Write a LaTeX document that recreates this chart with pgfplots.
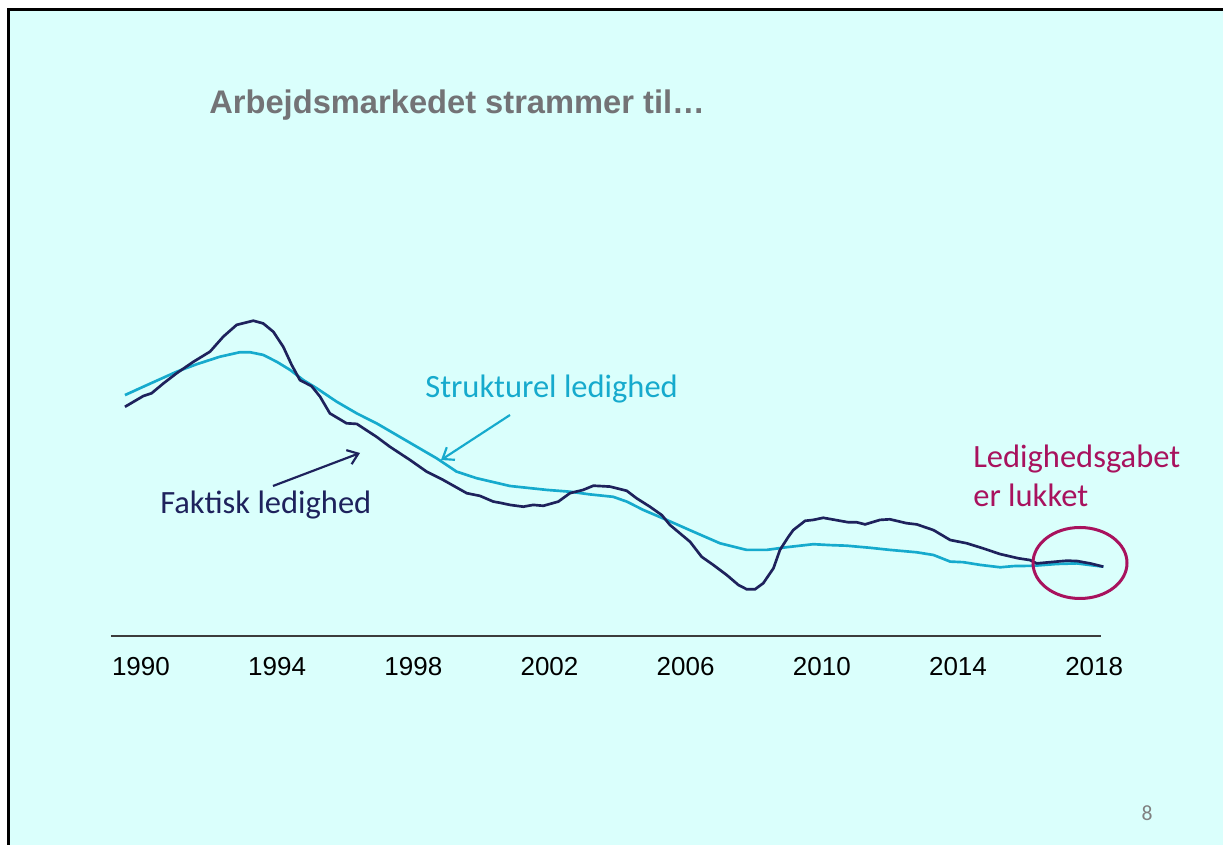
\documentclass[border=0pt]{standalone}
\usepackage{fontspec}
\setmainfont{Carlito}
\newfontfamily\arial{Liberation Sans}
\usepackage{pgfplots}
\pgfplotsset{compat=1.18}
\usetikzlibrary{arrows.meta}

\definecolor{slidebg}{RGB}{218,255,252}
\definecolor{faktisk}{RGB}{30,34,92}
\definecolor{struktur}{RGB}{22,170,205}
\definecolor{gabet}{RGB}{168,18,94}
\definecolor{titlegray}{RGB}{115,115,118}
\definecolor{axisgray}{RGB}{60,60,60}

% Faktisk ledighed (pct.)
\pgfplotstableread{
year  val
1989.53 7.64
1990.07 8.00
1990.31 8.09
1990.66 8.42
1991.05 8.76
1991.54 9.14
1992.03 9.48
1992.42 9.98
1992.81 10.37
1993.30 10.51
1993.59 10.42
1993.89 10.14
1994.18 9.64
1994.43 9.03
1994.67 8.53
1995.01 8.33
1995.26 7.98
1995.55 7.42
1996.04 7.09
1996.34 7.07
1996.92 6.64
1997.31 6.31
1997.90 5.87
1998.39 5.48
1998.88 5.20
1999.57 4.76
1999.96 4.67
2000.35 4.48
2000.55 4.44
2000.84 4.37
2001.23 4.31
2001.52 4.37
2001.82 4.34
2002.26 4.48
2002.60 4.76
2002.99 4.87
2003.29 5.01
2003.78 4.98
2004.27 4.84
2004.56 4.59
2004.95 4.31
2005.30 4.03
2005.54 3.70
2006.13 3.14
2006.47 2.64
2006.81 2.37
2007.21 2.03
2007.55 1.70
2007.79 1.56
2008.04 1.56
2008.28 1.76
2008.58 2.26
2008.77 2.87
2009.02 3.31
2009.16 3.53
2009.51 3.84
2009.75 3.87
2010.04 3.94
2010.24 3.90
2010.78 3.79
2011.03 3.79
2011.27 3.72
2011.71 3.87
2012.00 3.89
2012.49 3.76
2012.79 3.72
2013.28 3.53
2013.77 3.20
2014.26 3.09
2014.74 2.92
2015.24 2.73
2015.77 2.59
2016.12 2.53
2016.31 2.42
2016.70 2.46
2017.19 2.51
2017.49 2.50
2017.88 2.42
2018.27 2.31
}\faktiskdata

% Strukturel ledighed (pct.)
\pgfplotstableread{
year  val
1989.53 8.03
1990.07 8.31
1990.56 8.56
1991.05 8.81
1991.64 9.06
1992.32 9.31
1992.91 9.46
1993.20 9.46
1993.59 9.37
1993.99 9.14
1994.38 8.87
1994.77 8.53
1995.16 8.26
1995.75 7.81
1996.34 7.42
1996.92 7.09
1997.51 6.70
1998.10 6.31
1998.69 5.92
1999.27 5.48
1999.86 5.26
2000.84 5.00
2001.92 4.87
2002.60 4.81
2003.19 4.72
2003.87 4.64
2004.27 4.48
2004.76 4.20
2005.44 3.87
2006.22 3.48
2007.01 3.09
2007.79 2.87
2008.38 2.87
2008.97 2.96
2009.75 3.06
2010.24 3.03
2010.73 3.01
2011.42 2.94
2012.00 2.87
2012.79 2.79
2013.28 2.70
2013.77 2.48
2014.16 2.46
2014.65 2.37
2015.24 2.29
2015.63 2.33
2016.21 2.34
2016.90 2.40
2017.49 2.42
2018.27 2.31
}\strukturdata

\begin{document}
\begin{tikzpicture}[x=0.6pt,y=0.6pt]
\useasboundingbox (0,0) rectangle (1223,845);
\clip (0,0) rectangle (1223,845);
\fill[white] (0,0) rectangle (1223,845);
\fill[slidebg] (8.5,0) rectangle (1223,835.5);
\draw[black,line width=1.8pt] (8.5,-5) -- (8.5,835.5) -- (1230,835.5);

\node[anchor=base west, inner sep=0, text=titlegray,
      font=\arial\bfseries\fontsize{19.6}{23}\selectfont] at (209,731) {Arbejdsmarkedet strammer til…};

\begin{axis}[
    at={(66.6pt,125.4pt)}, anchor=south west,
    scale only axis, width=594pt, height=198pt,
    xmin=1989.12, xmax=2018.2, ymin=0, ymax=11,
    axis x line=bottom, hide y axis,
    x axis line style={-, line width=1.2pt, color=axisgray},
    xtick={1990,1994,...,2018},
    major tick length=0pt,
    xticklabel style={font=\arial\fontsize{15.6}{18}\selectfont, text=black, yshift=-9pt},
    /pgf/number format/assume math mode=true,
    /pgf/number format/1000 sep={},
    clip=false
]
\addplot[struktur, line width=1.6pt] table[x=year, y=val] {\strukturdata};
\addplot[faktisk, line width=1.6pt] table[x=year, y=val] {\faktiskdata};
\end{axis}

\draw[faktisk, line width=1.3pt, -{Straight Barb[length=6pt,width=9pt]}] (273,359) -- (360,392);
\draw[struktur, line width=1.3pt, -{Straight Barb[length=6pt,width=9pt]}] (510,430) -- (441,385);
\draw[gabet, line width=1.8pt] (1080,282) ellipse [x radius=47, y radius=35.5];

\node[anchor=base west, inner sep=0, text=struktur, font=\fontsize{19.5}{23}\selectfont] at (425,447) {Strukturel ledighed};
\node[anchor=base west, inner sep=0, text=faktisk, font=\fontsize{19.5}{23}\selectfont] at (160,331) {Faktisk ledighed};
\node[anchor=base west, inner sep=0, text=gabet, font=\fontsize{19.5}{23}\selectfont] at (973,377) {Ledighedsgabet};
\node[anchor=base west, inner sep=0, text=gabet, font=\fontsize{19.5}{23}\selectfont] at (973,338) {er lukket};
\node[inner sep=0, text=gray, font=\fontsize{13}{15}\selectfont] at (1147,32) {8};
\end{tikzpicture}
\end{document}
